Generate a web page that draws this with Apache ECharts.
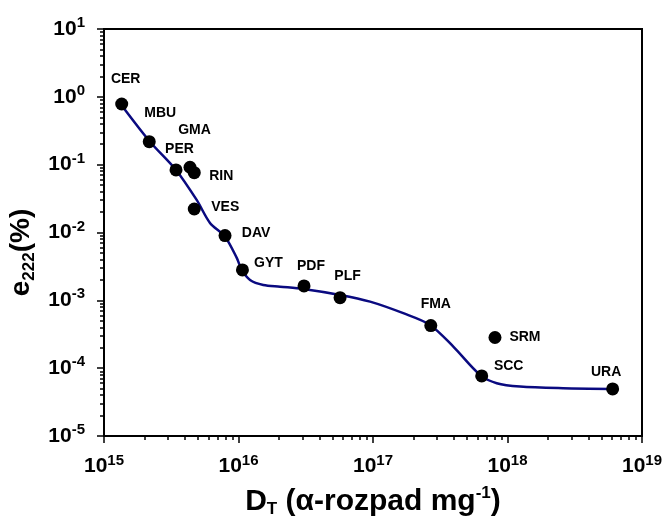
<!DOCTYPE html>
<html>
<head>
<meta charset="utf-8">
<script src="https://cdn.jsdelivr.net/npm/echarts@6/dist/echarts.min.js"></script>
<style>html,body{margin:0;padding:0;background:#fff}#c{width:663px;height:520px}</style>
</head>
<body>
<div id="c"></div>
<script>
// ---- data ----
var names = ['CER','MBU','GMA','PER','RIN','VES','DAV','GYT','PDF','PLF','FMA','SRM','SCC','URA'];
var dose  = [1.354e15, 2.17e15, 4.36e15, 3.43e15, 4.69e15, 4.69e15, 7.94e15, 1.07e16, 3.07e16, 5.69e16, 2.69e17, 8.07e17, 6.43e17, 6.05e18];
var e222  = [0.784, 0.218, 0.0916, 0.0836, 0.0762, 0.0222, 0.0090, 0.00281, 0.00163, 0.001096, 4.24e-4, 2.83e-4, 7.69e-5, 4.94e-5];
var fitDose = [1.377e15, 2.198e15, 3.428e15, 4.887e15, 6.137e15, 7.943e15, 9.705e15, 1.057e16, 1.219e16, 1.528e16, 2.037e16, 3.034e16, 5.689e16, 9.506e16, 1.679e17, 2.655e17, 3.954e17, 6.252e17, 8.318e17, 1.239e18, 2.588e18, 5.957e18];
var fitE    = [0.716, 0.218, 0.0836, 0.0302, 0.01384, 0.00869, 0.00422, 0.00281, 0.00200, 0.001687, 0.001592, 0.001472, 0.001202, 0.000957, 0.000646, 0.000434, 0.000208, 7.96e-5, 6.0e-5, 5.35e-5, 5.06e-5, 4.94e-5];
var xMajor = [1e15, 1e16, 1e17, 1e18, 1e19];
var yMajor = [1e-5, 1e-4, 1e-3, 1e-2, 1e-1, 1e0, 1e1];

// ---- layout (label offsets from point centre, px) ----
var labelOffset = {
  CER:[4,-25], MBU:[11,-29], GMA:[4.5,-37], PER:[3.5,-21], RIN:[27,3], VES:[31,-2], DAV:[31,-2],
  GYT:[26,-7], PDF:[7,-20], PLF:[7.5,-21], FMA:[5,-21], SRM:[30,0], SCC:[27,-10], URA:[-6.5,-17]
};

function minorsOf(majors){
  var out=[];
  for (var i=0;i<majors.length-1;i++){ for (var k=2;k<=9;k++){ out.push(majors[i]*k); } }
  return out;
}
var FONT = '"Liberation Sans", Arial, sans-serif';
function expLabel(v){
  var n = Math.round(Math.log10(v));
  return '{b|10}{s|' + n + '}';
}
var tickRich = {
  b:{fontSize:21, fontWeight:'bold', fontFamily:FONT, color:'#000'},
  s:{fontSize:15, fontWeight:'bold', fontFamily:FONT, color:'#000', padding:[0,0,12,0]}
};

var chart = echarts.init(document.getElementById('c'), null, {renderer:'canvas'});
var scatterData = names.map(function(n,i){
  return {name:n, value:[dose[i], e222[i]], label:{offset:labelOffset[n]}};
});
var fitData = fitDose.map(function(d,i){ return [d, fitE[i]]; });

chart.setOption({
  animation:false,
  backgroundColor:'#fff',
  grid:{left:104, right:21, top:29, bottom:84, containLabel:false, outerBoundsMode:'none',
        show:true, borderColor:'#000', borderWidth:2, backgroundColor:'transparent'},
  xAxis:[{
    type:'log', logBase:10, min:1e15, max:1e19, interval:1,
    axisLine:{show:true, lineStyle:{color:'#000', width:2}},
    axisTick:{show:true, inside:false, length:7, lineStyle:{color:'#000', width:1.5}, customValues:xMajor},
    axisLabel:{show:true, customValues:xMajor, formatter:expLabel, rich:tickRich, margin:17},
    splitLine:{show:false},
    name:'{b|D}{sub|T}{b| (α-rozpad mg}{sup|-1}{b|)}',
    nameLocation:'middle', nameGap:49,
    nameTextStyle:{rich:{
      b:{fontSize:30, fontWeight:'bold', fontFamily:FONT, color:'#000'},
      sub:{fontSize:17, fontWeight:'bold', fontFamily:FONT, color:'#000', padding:[16,0,0,0]},
      sup:{fontSize:17, fontWeight:'bold', fontFamily:FONT, color:'#000', padding:[0,0,16,0]}
    }, padding:[0,0,0,0]}
  },{
    type:'log', logBase:10, min:1e15, max:1e19, gridIndex:0, position:'bottom',
    axisLine:{show:false},
    axisTick:{show:true, inside:false, length:4, lineStyle:{color:'#000', width:1.5}, customValues:minorsOf(xMajor)},
    axisLabel:{show:false}, splitLine:{show:false}
  }],
  yAxis:[{
    type:'log', logBase:10, min:1e-5, max:10, interval:1,
    axisLine:{show:true, lineStyle:{color:'#000', width:2}},
    axisTick:{show:true, inside:false, length:7, lineStyle:{color:'#000', width:1.5}, customValues:yMajor},
    axisLabel:{show:true, customValues:yMajor, formatter:expLabel, rich:tickRich, margin:19},
    splitLine:{show:false},
    name:'{b|e}{sub|222}{b|(%)}',
    nameLocation:'middle', nameGap:60,
    nameTextStyle:{rich:{
      b:{fontSize:28, fontWeight:'bold', fontFamily:FONT, color:'#000'},
      sub:{fontSize:17, fontWeight:'bold', fontFamily:FONT, color:'#000', padding:[15,0,0,0]}
    }, padding:[0,40,0,0]}
  },{
    type:'log', logBase:10, min:1e-5, max:10, gridIndex:0, position:'left',
    axisLine:{show:false},
    axisTick:{show:true, inside:false, length:4, lineStyle:{color:'#000', width:1.5}, customValues:minorsOf(yMajor)},
    axisLabel:{show:false}, splitLine:{show:false}
  }],
  series:[{
    type:'line', data:fitData, smooth:0.3, showSymbol:false, symbol:'none',
    lineStyle:{color:'#0a0a80', width:2.5}, z:2
  },{
    type:'scatter', data:scatterData, symbol:'circle', symbolSize:13,
    itemStyle:{color:'#000', opacity:1}, z:3,
    label:{show:true, position:'inside', formatter:'{b}', color:'#000', opacity:1, fontSize:14, fontWeight:'bold', fontFamily:FONT}
  }]
});
</script>
</body>
</html>
